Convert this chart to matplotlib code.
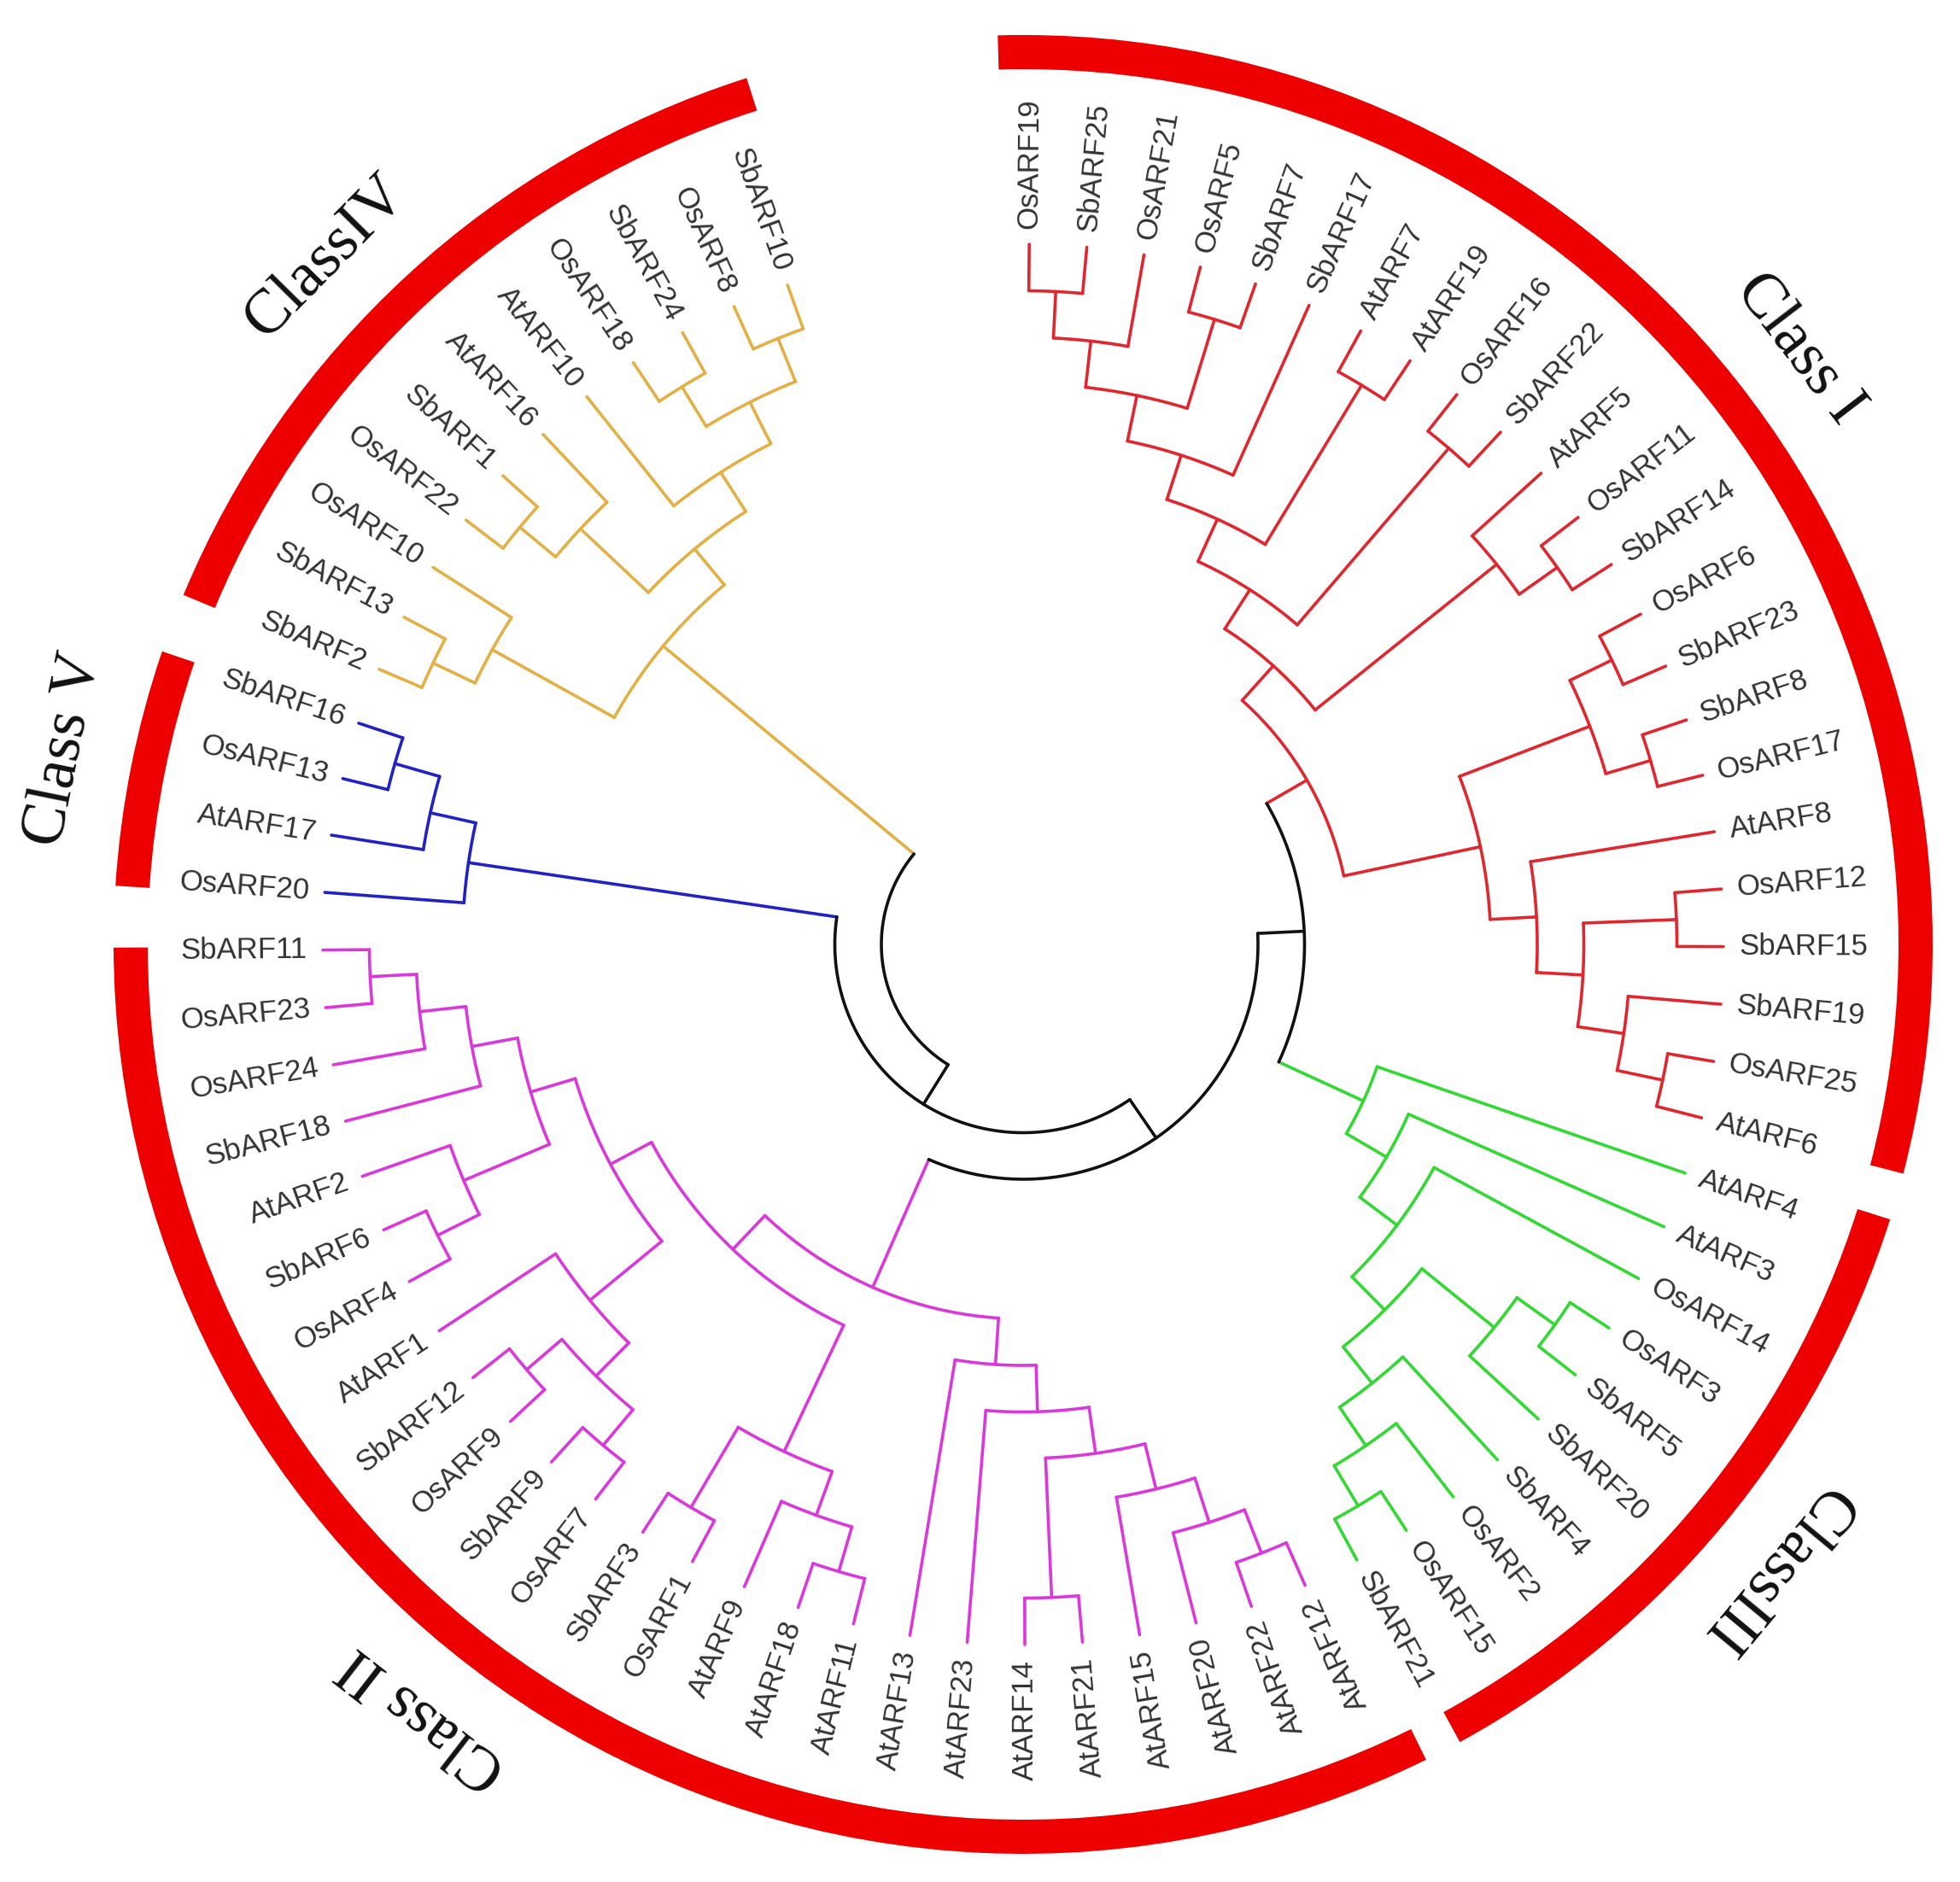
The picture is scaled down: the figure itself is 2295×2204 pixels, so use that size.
import numpy as np
import matplotlib
matplotlib.use("Agg")
import matplotlib.pyplot as plt
from matplotlib.patches import Wedge

# ---- tree topology (Newick, leaves in clockwise order from the top) ----
class_i_top = ("((((((OsARF19,SbARF25),OsARF21),(OsARF5,SbARF7)),SbARF17),"
               "(AtARF7,AtARF19)),(OsARF16,SbARF22))")
class_i_mid = "(AtARF5,(OsARF11,SbARF14))"
class_i_low = ("(((OsARF6,SbARF23),(SbARF8,OsARF17)),"
               "(AtARF8,((OsARF12,SbARF15),(SbARF19,(OsARF25,AtARF6)))))")
class_i = "((" + class_i_top + "," + class_i_mid + ")," + class_i_low + ")"

class_iii = "(AtARF4,(AtARF3,(OsARF14,(((OsARF3,SbARF5),SbARF20),(SbARF4,(OsARF2,(OsARF15,SbARF21)))))))"

class_ii_at = "((((((AtARF12,AtARF22),AtARF20),AtARF15),(AtARF21,AtARF14)),AtARF23),AtARF13)"
class_ii_os1 = "(((AtARF11,AtARF18),AtARF9),(OsARF1,SbARF3))"
class_ii_at1 = "(((OsARF7,SbARF9),(OsARF9,SbARF12)),AtARF1)"
class_ii_left = "(((OsARF4,SbARF6),AtARF2),(SbARF18,(OsARF24,(OsARF23,SbARF11))))"
class_ii = "(" + class_ii_at + ",(" + class_ii_os1 + ",(" + class_ii_at1 + "," + class_ii_left + ")))"

class_v = "(OsARF20,(AtARF17,(OsARF13,SbARF16)))"

class_iv = ("(((SbARF2,SbARF13),OsARF10),(((OsARF22,SbARF1),AtARF16),"
            "(AtARF10,((OsARF18,SbARF24),(OsARF8,SbARF10)))))")

class_trees = [class_i, class_iii, class_ii, class_v, class_iv]
class_names = ["Class I", "ClassIII", "Class II", "Class V", "ClassIV"]
class_colors = ["#e0262e", "#33d933", "#db38dc", "#2222c4", "#e2b045"]
bar_spans = [(-14.6, 91.6), (-61.3, -17.6), (-179.8, -63.7), (161.2, 176.3), (107.7, 157.4)]
label_angles = [37.5, -39.7, -127.8, 168.5, 135.4]

# ---- layout constants (pixels of the 2295x2204 canvas) ----
CX, CY = 1198, 1098
THETA0, DTHETA = 89.5, 4.72
R_TIP, R_STEP = 820, 54.5
R_LABEL = 838
R_BAR, BAR_W = 1045, 40
R_CLASS = 1145
FLIP_BELOW = -64
LW = 2.6


def parse(s):
    pos = 0

    def node():
        nonlocal pos
        if s[pos] == "(":
            pos += 1
            kids = [node()]
            while s[pos] == ",":
                pos += 1
                kids.append(node())
            assert s[pos] == ")"
            pos += 1
            return kids
        start = pos
        while pos < len(s) and s[pos] not in ",()":
            pos += 1
        return s[start:pos]

    t = node()
    assert pos == len(s)
    return t


def xy(r, ang):
    a = np.deg2rad(ang)
    return CX + r * np.cos(a), CY + r * np.sin(a)


fig = plt.figure(figsize=(22.95, 22.04), dpi=100)
ax = fig.add_axes([0, 0, 1, 1])
ax.set_xlim(0, 2295)
ax.set_ylim(0, 2204)
ax.axis("off")

leaves = []


def layout(t, color):
    if isinstance(t, tuple):
        return layout(t[1], t[0])
    if isinstance(t, str):
        ang = THETA0 - DTHETA * len(leaves)
        leaves.append((t, ang))
        return {"ang": ang, "h": 0, "r": R_TIP, "color": color}
    kids = [layout(k, color) for k in t]
    h = 1 + max(k["h"] for k in kids)
    r = R_TIP - R_STEP * h
    ang = np.mean([k["ang"] for k in kids])
    for k in kids:
        x0, y0 = xy(r, k["ang"])
        x1, y1 = xy(k["r"], k["ang"])
        ax.plot([x0, x1], [y0, y1], color=k["color"], lw=LW, solid_capstyle="round")
    a1 = min(k["ang"] for k in kids)
    a2 = max(k["ang"] for k in kids)
    aa = np.linspace(a1, a2, max(2, int((a2 - a1) * 4)))
    ax.plot(*xy(r, aa), color=color, lw=LW, solid_capstyle="round")
    return {"ang": ang, "h": h, "r": r, "color": color}


clades = [(c, parse(s)) for c, s in zip(class_colors, class_trees)]
backbone = [[[[clades[0], clades[1]], clades[2]], clades[3]], clades[4]]
layout(backbone, "#111111")

for name, ang in leaves:
    x, y = xy(R_LABEL, ang)
    if ang < FLIP_BELOW:
        rot, ha = ang + 180, "right"
    else:
        rot, ha = ang, "left"
    rot = (rot + 180) % 360 - 180
    ax.text(x, y, name, rotation=rot, rotation_mode="anchor", ha=ha, va="center",
            fontsize=25, color="#333333", family="Liberation Sans")

for (a1, a2), name, ang in zip(bar_spans, class_names, label_angles):
    ax.add_patch(Wedge((CX, CY), R_BAR + BAR_W / 2, a1, a2, width=BAR_W,
                       facecolor="#ee0000", edgecolor="none"))
    x, y = xy(R_CLASS, ang)
    ax.text(x, y, name, rotation=ang - 90, rotation_mode="anchor", ha="center",
            va="center", fontsize=53, color="#111111", family="Liberation Serif")

fig.savefig("out.png", dpi=100)
